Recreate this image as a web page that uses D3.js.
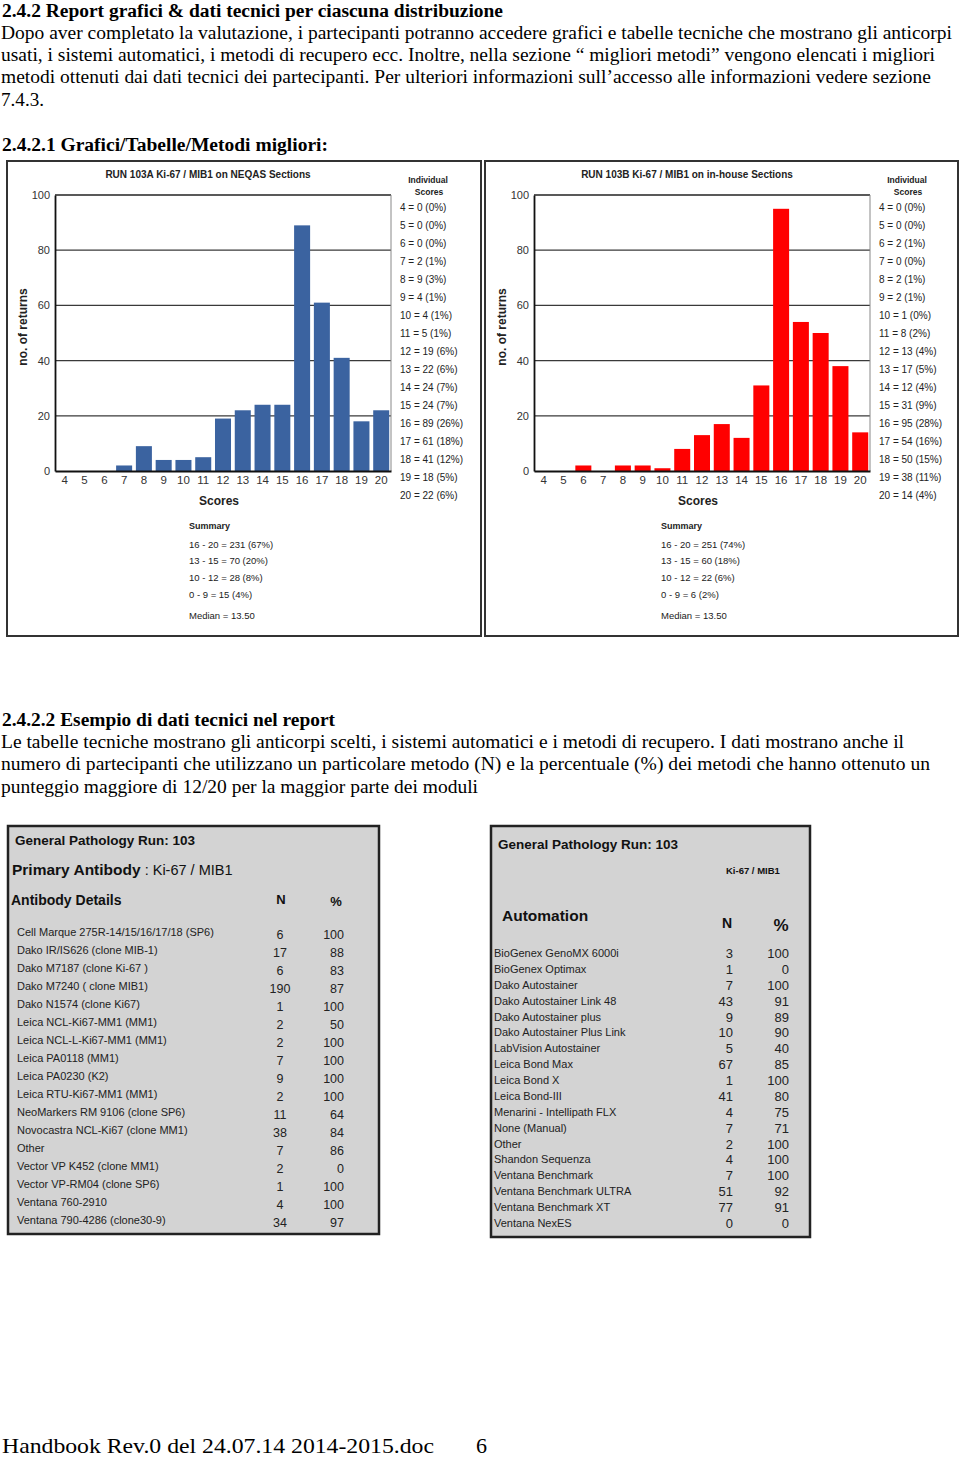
<!DOCTYPE html>
<html>
<head>
<meta charset="utf-8">
<script src="https://cdn.jsdelivr.net/npm/d3@7"></script>
<style>
  body { margin: 0; background: #fff; }
  svg { display: block; }
  .sans { font-family: "Liberation Sans", Arial, sans-serif; }
  .serif { font-family: "Liberation Serif", "Times New Roman", serif; }
</style>
</head>
<body>
<div id="page"></div>
<script>
// Scores on the x axis
var scores = [4, 5, 6, 7, 8, 9, 10, 11, 12, 13, 14, 15, 16, 17, 18, 19, 20];

// Run 103A (NEQAS sections)
var countsA = [0, 0, 0, 2, 9, 4, 4, 5, 19, 22, 24, 24, 89, 61, 41, 18, 22];
var pctA    = [0, 0, 0, 1, 3, 1, 1, 1, 6, 6, 7, 7, 26, 18, 12, 5, 6];

// Run 103B (in-house sections)
var countsB = [0, 0, 2, 0, 2, 2, 1, 8, 13, 17, 12, 31, 95, 54, 50, 38, 14];
var pctB    = [0, 0, 1, 0, 1, 1, 0, 2, 4, 5, 4, 9, 28, 16, 15, 11, 4];

// Summary blocks
var summaryRanges = ["16 - 20", "13 - 15", "10 - 12", "0 - 9"];
var summaryA = [231, 70, 28, 15];
var summaryPctA = [67, 20, 8, 4];
var summaryB = [251, 60, 22, 6];
var summaryPctB = [74, 18, 6, 2];
var medianA = "13.50", medianB = "13.50";

var yTicks = [0, 20, 40, 60, 80, 100];

// Antibody table
var antibodyNames = ["Cell Marque 275R-14/15/16/17/18 (SP6)", "Dako IR/IS626 (clone MIB-1)", "Dako M7187 (clone Ki-67 )",
  "Dako M7240 ( clone MIB1)", "Dako N1574 (clone Ki67)", "Leica NCL-Ki67-MM1 (MM1)", "Leica NCL-L-Ki67-MM1 (MM1)",
  "Leica PA0118 (MM1)", "Leica PA0230 (K2)", "Leica RTU-Ki67-MM1 (MM1)", "NeoMarkers RM 9106 (clone SP6)",
  "Novocastra NCL-Ki67 (clone MM1)", "Other", "Vector VP K452 (clone MM1)", "Vector VP-RM04 (clone SP6)",
  "Ventana 760-2910", "Ventana 790-4286 (clone30-9)"];
var antibodyN   = [6, 17, 6, 190, 1, 2, 2, 7, 9, 2, 11, 38, 7, 2, 1, 4, 34];
var antibodyPct = [100, 88, 83, 87, 100, 50, 100, 100, 100, 100, 64, 84, 86, 0, 100, 100, 97];

// Automation table
var automationNames = ["BioGenex GenoMX 6000i", "BioGenex Optimax", "Dako Autostainer", "Dako Autostainer Link 48",
  "Dako Autostainer plus", "Dako Autostainer Plus Link", "LabVision Autostainer", "Leica Bond Max", "Leica Bond X",
  "Leica Bond-III", "Menarini - Intellipath FLX", "None (Manual)", "Other", "Shandon Sequenza",
  "Ventana Benchmark", "Ventana Benchmark ULTRA", "Ventana Benchmark XT", "Ventana NexES"];
var automationN   = [3, 1, 7, 43, 9, 10, 5, 67, 1, 41, 4, 7, 2, 4, 7, 51, 77, 0];
var automationPct = [100, 0, 100, 91, 89, 90, 40, 85, 100, 80, 75, 71, 100, 100, 100, 92, 91, 0];

var W = 960, H = 1458;
var svg = d3.select("#page").append("svg")
    .attr("width", W).attr("height", H);
svg.append("rect").attr("width", W).attr("height", H).attr("fill", "#fff");

// helper: serif document text squeezed to the measured width
function docText(x, y, str, width, bold, size) {
    var t = svg.append("text")
        .attr("class", "serif")
        .attr("x", x).attr("y", y)
        .attr("font-size", size || 18)
        .attr("font-weight", bold ? "bold" : "normal")
        .attr("fill", "#000")
        .text(str);
    if (width) t.attr("textLength", width).attr("lengthAdjust", "spacingAndGlyphs");
    return t;
}

// Document text
docText(2, 17, "2.4.2 Report grafici & dati tecnici per ciascuna distribuzione", 501, true);
docText(1, 39, "Dopo aver completato la valutazione, i partecipanti potranno accedere grafici e tabelle tecniche che mostrano gli anticorpi", 951);
docText(1, 61, "usati, i sistemi automatici, i metodi di recupero ecc. Inoltre, nella sezione \u201c migliori metodi\u201d vengono elencati i migliori", 934);
docText(1, 83, "metodi ottenuti dai dati tecnici dei partecipanti. Per ulteriori informazioni sull\u2019accesso alle informazioni vedere sezione", 930);
docText(1, 106, "7.4.3.", 43);
docText(2, 151, "2.4.2.1 Grafici/Tabelle/Metodi migliori:", 326, true);

docText(2, 726, "2.4.2.2 Esempio di dati tecnici nel report", 333, true);
docText(1, 748, "Le tabelle tecniche mostrano gli anticorpi scelti, i sistemi automatici e i metodi di recupero. I dati mostrano anche il", 903);
docText(1, 770, "numero di partecipanti che utilizzano un particolare metodo (N) e la percentuale (%)  dei metodi che hanno ottenuto un", 929);
docText(1, 793, "punteggio maggiore di 12/20 per la maggior parte dei moduli", 477);

docText(2, 1453, "Handbook Rev.0 del 24.07.14  2014-2015.doc", 432, false, 21);
docText(476, 1453, "6", 11, false, 21);

// Histogram chart
function drawChart(o) {
    var g = svg.append("g").attr("class", "sans");

    g.append("rect")
        .attr("x", o.box[0]).attr("y", o.box[1])
        .attr("width", o.box[2]).attr("height", o.box[3])
        .attr("fill", "#fff").attr("stroke", "#333").attr("stroke-width", 2);

    var x = d3.scaleBand()
        .domain(scores)
        .range([o.left, o.right])
        .paddingInner(0.19).paddingOuter(0.09);

    var y = d3.scaleLinear()
        .domain([0, 100])
        .range([471, 195]);

    // gridlines
    g.selectAll(".grid")
        .data(yTicks.slice(1, -1))
      .enter().append("line")
        .attr("x1", o.left).attr("x2", o.right)
        .attr("y1", d => y(d)).attr("y2", d => y(d))
        .attr("stroke", "#3a3a3a").attr("stroke-width", 1.2);

    // plot frame
    g.append("line").attr("x1", o.left).attr("x2", o.right)
        .attr("y1", y(100)).attr("y2", y(100)).attr("stroke", "#222").attr("stroke-width", 1.5);
    g.append("line").attr("x1", o.right).attr("x2", o.right)
        .attr("y1", y(100)).attr("y2", y(0)).attr("stroke", "#888").attr("stroke-width", 1);

    // bars
    g.selectAll(".bar")
        .data(o.counts)
      .enter().append("rect")
        .attr("x", (d, i) => x(scores[i]))
        .attr("width", x.bandwidth())
        .attr("y", d => y(d))
        .attr("height", d => y(0) - y(d))
        .attr("fill", o.color);

    // axes
    var yAxis = g.append("g")
        .attr("transform", "translate(" + o.left + ",0)")
        .call(d3.axisLeft(y).tickValues(yTicks).tickSize(0).tickPadding(5));
    yAxis.select(".domain").attr("stroke", "#111").attr("stroke-width", 1.8);
    yAxis.selectAll("text").attr("font-size", 11).attr("fill", "#333")
        .attr("font-family", "Liberation Sans, Arial, sans-serif");

    var xAxis = g.append("g")
        .attr("transform", "translate(0," + y(0) + ")")
        .call(d3.axisBottom(x).tickSize(0).tickPadding(5));
    xAxis.select(".domain").attr("stroke", "#111").attr("stroke-width", 1.8);
    xAxis.selectAll("text").attr("font-size", 11.5).attr("fill", "#333")
        .attr("font-family", "Liberation Sans, Arial, sans-serif");

    // title and axis titles
    g.append("text")
        .attr("x", (o.left + o.right) / 2 - 15).attr("y", 178)
        .attr("text-anchor", "middle").attr("font-size", 10).attr("font-weight", "bold")
        .attr("fill", "#222").text(o.title);
    g.append("text")
        .attr("x", (o.left + o.right) / 2 - 4).attr("y", 505)
        .attr("text-anchor", "middle").attr("font-size", 12).attr("font-weight", "bold")
        .attr("fill", "#222").text("Scores");
    g.append("text")
        .attr("transform", "translate(" + (o.left - 28) + ",327) rotate(-90)")
        .attr("text-anchor", "middle").attr("font-size", 12).attr("font-weight", "bold")
        .attr("fill", "#222").text("no. of returns");

    // legend of individual scores
    var lx = o.right + 9;
    g.append("text").attr("x", lx + 28).attr("y", 183)
        .attr("text-anchor", "middle").attr("font-size", 8.5).attr("font-weight", "bold")
        .attr("fill", "#222").text("Individual");
    g.append("text").attr("x", lx + 29).attr("y", 195)
        .attr("text-anchor", "middle").attr("font-size", 8.5).attr("font-weight", "bold")
        .attr("fill", "#222").text("Scores");
    g.selectAll(".leg")
        .data(o.counts)
      .enter().append("text")
        .attr("x", lx)
        .attr("y", (d, i) => 210.5 + i * 18)
        .attr("font-size", 10).attr("fill", "#222")
        .text((d, i) => scores[i] + " = " + d + " (" + o.pct[i] + "%)");

    // summary
    var sx = o.summaryX;
    g.append("text").attr("x", sx).attr("y", 529)
        .attr("font-size", 9).attr("font-weight", "bold").attr("fill", "#222").text("Summary");
    g.selectAll(".sum")
        .data(o.summary)
      .enter().append("text")
        .attr("x", sx)
        .attr("y", (d, i) => 547.5 + i * 16.7)
        .attr("font-size", 9.5).attr("fill", "#222")
        .text((d, i) => summaryRanges[i] + " = " + d + " (" + o.summaryPct[i] + "%)");
    g.append("text").attr("x", sx).attr("y", 619)
        .attr("font-size", 9.5).attr("fill", "#222").text("Median = " + o.median);
}

drawChart({
    box: [7, 161, 474, 475], left: 55, right: 391, color: "#3b63a0",
    title: "RUN 103A Ki-67 / MIB1 on NEQAS Sections",
    counts: countsA, pct: pctA, summary: summaryA, summaryPct: summaryPctA,
    median: medianA, summaryX: 189
});
drawChart({
    box: [485, 161, 473, 475], left: 534, right: 870, color: "#ff0000",
    title: "RUN 103B Ki-67 / MIB1 on in-house Sections",
    counts: countsB, pct: pctB, summary: summaryB, summaryPct: summaryPctB,
    median: medianB, summaryX: 661
});

// Technical tables
var tA = svg.append("g").attr("class", "sans");
tA.append("rect").attr("x", 8).attr("y", 826).attr("width", 371).attr("height", 408)
    .attr("fill", "#d3d3d3").attr("stroke", "#222").attr("stroke-width", 2.5);
tA.append("text").attr("x", 15).attr("y", 845).attr("font-size", 13.5).attr("font-weight", "bold")
    .attr("fill", "#111").text("General Pathology Run: 103");
var pa = tA.append("text").attr("x", 12).attr("y", 875).attr("fill", "#111");
pa.append("tspan").attr("font-size", 15.5).attr("font-weight", "bold").text("Primary Antibody");
pa.append("tspan").attr("font-size", 14.5).text(" : Ki-67 / MIB1");
tA.append("text").attr("x", 11).attr("y", 905).attr("font-size", 14).attr("font-weight", "bold")
    .attr("fill", "#111").text("Antibody Details");
tA.append("text").attr("x", 281).attr("y", 904).attr("text-anchor", "middle").attr("font-size", 13)
    .attr("font-weight", "bold").attr("fill", "#111").text("N");
tA.append("text").attr("x", 336).attr("y", 906).attr("text-anchor", "middle").attr("font-size", 13)
    .attr("font-weight", "bold").attr("fill", "#111").text("%");

var rowA = d3.scaleLinear().domain([0, antibodyNames.length - 1]).range([936, 1224]);
tA.selectAll(".abName").data(antibodyNames).enter().append("text")
    .attr("x", 17).attr("y", (d, i) => rowA(i)).attr("font-size", 11).attr("fill", "#222").text(d => d);
tA.selectAll(".abN").data(antibodyN).enter().append("text")
    .attr("x", 280).attr("y", (d, i) => rowA(i) + 3).attr("text-anchor", "middle")
    .attr("font-size", 12.5).attr("fill", "#222").text(d => d);
tA.selectAll(".abP").data(antibodyPct).enter().append("text")
    .attr("x", 344).attr("y", (d, i) => rowA(i) + 3).attr("text-anchor", "end")
    .attr("font-size", 12.5).attr("fill", "#222").text(d => d);

var tB = svg.append("g").attr("class", "sans");
tB.append("rect").attr("x", 491).attr("y", 826).attr("width", 319).attr("height", 411)
    .attr("fill", "#d3d3d3").attr("stroke", "#222").attr("stroke-width", 2.5);
tB.append("text").attr("x", 498).attr("y", 849).attr("font-size", 13.5).attr("font-weight", "bold")
    .attr("fill", "#111").text("General Pathology Run: 103");
tB.append("text").attr("x", 726).attr("y", 874).attr("font-size", 9.5).attr("font-weight", "bold")
    .attr("fill", "#111").text("Ki-67 / MIB1");
tB.append("text").attr("x", 502).attr("y", 921).attr("font-size", 15.5).attr("font-weight", "bold")
    .attr("fill", "#111").text("Automation");
tB.append("text").attr("x", 727).attr("y", 928).attr("text-anchor", "middle").attr("font-size", 14)
    .attr("font-weight", "bold").attr("fill", "#111").text("N");
tB.append("text").attr("x", 781).attr("y", 931).attr("text-anchor", "middle").attr("font-size", 17)
    .attr("font-weight", "bold").attr("fill", "#111").text("%");

var rowB = d3.scaleLinear().domain([0, automationNames.length - 1]).range([957, 1227]);
tB.selectAll(".auName").data(automationNames).enter().append("text")
    .attr("x", 494).attr("y", (d, i) => rowB(i)).attr("font-size", 11).attr("fill", "#222").text(d => d);
tB.selectAll(".auN").data(automationN).enter().append("text")
    .attr("x", 733).attr("y", (d, i) => rowB(i) + 1).attr("text-anchor", "end")
    .attr("font-size", 13).attr("fill", "#222").text(d => d);
tB.selectAll(".auP").data(automationPct).enter().append("text")
    .attr("x", 789).attr("y", (d, i) => rowB(i) + 1).attr("text-anchor", "end")
    .attr("font-size", 13).attr("fill", "#222").text(d => d);
</script>
</body>
</html>
